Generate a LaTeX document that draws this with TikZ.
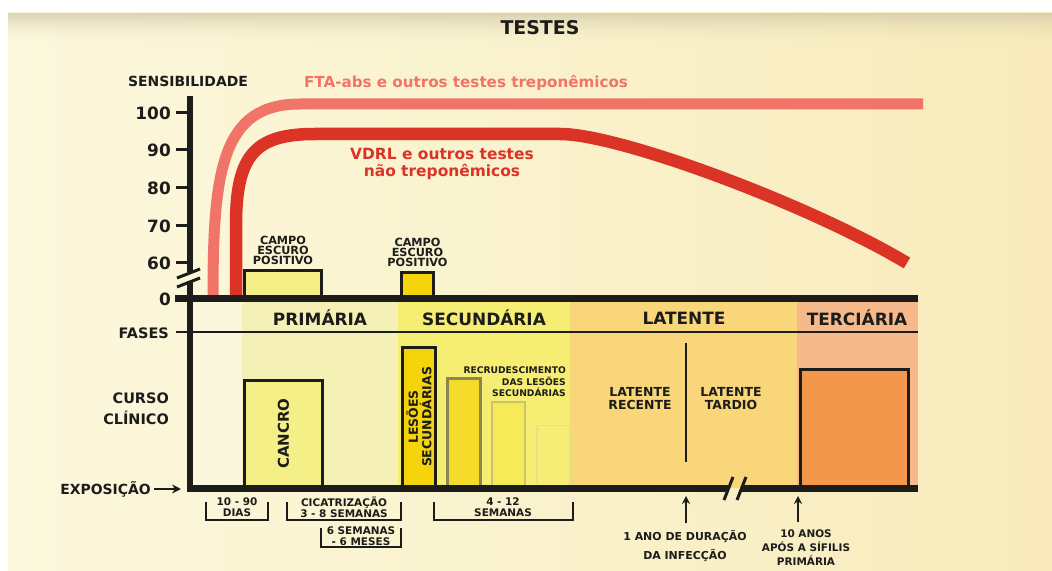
\documentclass[tikz,border=0pt]{standalone}
\usepackage{fontspec}
\setmainfont{DejaVu Sans}
\usetikzlibrary{positioning,arrows.meta}
\definecolor{ink}{HTML}{1C1C1A}
\definecolor{bgleft}{HTML}{FCF8DD}
\definecolor{bgmid}{HTML}{FAF2CD}
\definecolor{bgright}{HTML}{F8EABA}
\definecolor{topband}{HTML}{CFC6A6}
\definecolor{ftared}{HTML}{F07468}
\definecolor{vdrlred}{HTML}{DC3327}
\definecolor{preclr}{HTML}{FBF6DE}
\definecolor{primclr}{HTML}{F4F0B6}
\definecolor{secclr}{HTML}{F6EE72}
\definecolor{latclr}{HTML}{F8D679}
\definecolor{terclr}{HTML}{F5B98B}
\definecolor{paleyel}{HTML}{F4EF86}
\definecolor{goldyel}{HTML}{F5D40C}
\definecolor{bar1clr}{HTML}{F5DB2A}
\definecolor{bar2clr}{HTML}{F6EA58}
\definecolor{bar3clr}{HTML}{F6EE74}
\definecolor{bar1edge}{HTML}{8C8650}
\definecolor{bar2edge}{HTML}{C9C070}
\definecolor{bar3edge}{HTML}{E6E08E}
\definecolor{orangebox}{HTML}{F3984A}
\newcommand\fsz[2]{\fontsize{#1}{#2}\selectfont\bfseries}

\begin{document}
\begin{tikzpicture}
  [x=1bp, y=-1bp,
   txt/.style={text=ink, inner sep=0pt, align=center},
   box/.style={draw=ink, line width=3bp, inner sep=0pt, anchor=south west},
   axisline/.style={draw=ink, line width=7bp},
   tickline/.style={draw=ink, line width=3bp},
   bracket/.style={draw=ink, line width=1.5bp},
   uparrow/.style={draw=ink, line width=2bp, -{Stealth[length=8bp,width=8bp]}}]
  \useasboundingbox (0,0) rectangle (1052,571);
  \fill[white] (0,0) rectangle (1052,571);
  \shade[left color=bgleft, right color=bgright, middle color=bgmid] (8,13) rectangle (1052,571);
  \foreach \i [evaluate=\i as \op using (1-\i/16)^2*0.7] in {0,...,15}
    \fill[topband, opacity=\op] (8,13+2*\i) rectangle (1052,15+2*\i);

  \fill[preclr]  (190,298) rectangle (242,488);
  \fill[primclr] (242,298) rectangle (398,488);
  \fill[secclr]  (398,298) rectangle (570,488);
  \fill[latclr]  (570,298) rectangle (797,488);
  \fill[terclr]  (797,298) rectangle (918,488);

  \draw[ftared, line width=11bp] (213,296) .. controls (213,170) and (222,104) .. (300,104) -- (923,104);
  \draw[vdrlred, line width=12.5bp] (236,296) -- (236,225) .. controls (236,155) and (255,134) .. (315,134)
    -- (560,134) .. controls (620,134) and (810,205) .. (907,263);

  \node[txt, font=\fsz{19}{19}] (title) at (540,28) {TESTES};
  \node[txt, font=\fsz{14}{14}] (sens) at (188,81) {SENSIBILIDADE};
  \node[txt, text=ftared, font=\fsz{15.2}{15}] (ftalabel) at (466,83) {FTA-abs e outros testes treponêmicos};
  \node[txt, text=vdrlred, font=\fsz{15.5}{17}] (vdrllabel) at (442,164) {VDRL e outros testes\\não treponêmicos};

  \node[box, fill=paleyel, minimum width=77bp, minimum height=26bp] (campo1) at (243,298) {};
  \node[txt, font=\fsz{11.3}{10.3}, above=4bp of campo1] (campo1lbl) {CAMPO\\ESCURO\\POSITIVO};
  \node[box, fill=goldyel, minimum width=32bp, minimum height=24bp] (campo2) at (400,298) {};
  \node[txt, font=\fsz{11.3}{10.3}, above=4bp of campo2] (campo2lbl) {CAMPO\\ESCURO\\POSITIVO};

  \node[box, fill=paleyel, minimum width=78bp, minimum height=106bp] (cancro) at (243,488) {};
  \node[txt, font=\fsz{15}{15}, rotate=90] (cancrolbl) at (cancro.center) {CANCRO};
  \node[box, fill=goldyel, minimum width=33bp, minimum height=139bp] (lesoes) at (401,488) {};
  \node[txt, font=\fsz{12.5}{13.5}, rotate=90] (lesoeslbl) at (lesoes.center) {LESÕES\\SECUNDÁRIAS};
  \node[box, draw=bar1edge, line width=2.5bp, fill=bar1clr, minimum width=33bp, minimum height=108bp] (bar1) at (446,488) {};
  \node[box, draw=bar2edge, line width=2bp, fill=bar2clr, minimum width=33bp, minimum height=85bp] (bar2) at (491,488) {};
  \node[box, draw=bar3edge, line width=1.5bp, fill=bar3clr, minimum width=33bp, minimum height=62bp] (bar3) at (536,488) {};
  \node[txt, font=\fsz{9.2}{11.5}, align=right, anchor=east] (recrud) at (566,382) {RECRUDESCIMENTO\\DAS LESÕES\\SECUNDÁRIAS};

  \draw[ink, line width=2bp] (686,343) -- (686,462);
  \node[txt, font=\fsz{12.5}{13}] (latrec) at (640,399) {LATENTE\\RECENTE};
  \node[txt, font=\fsz{12.5}{13}] (lattar) at (731,399) {LATENTE\\TARDIO};
  \node[box, fill=orangebox, minimum width=108bp, minimum height=117bp] (terbox) at (799,488) {};

  \draw[ink, line width=6bp] (190,96) -- (190,272);
  \draw[ink, line width=6bp] (190,281) -- (190,488);
  \draw[tickline] (177,278) -- (200,269);
  \draw[tickline] (177,287) -- (200,278);
  \foreach \val/\ypos in {100/113, 90/150, 80/188, 70/226, 60/263} {
    \draw[tickline] (176,\ypos) -- (190,\ypos);
    \node[txt, font=\fsz{17}{17}, anchor=east] (tick\val) at (171,\ypos) {\val};
  }
  \draw[axisline] (175,298) -- (918,298);
  \node[txt, font=\fsz{17}{17}, anchor=east] (tick0) at (171,299) {0};
  \draw[ink, line width=2bp] (176,332) -- (918,332);
  \node[txt, font=\fsz{14.5}{14.5}, anchor=east] (fases) at (169,333) {FASES};
  \node[txt, font=\fsz{14.5}{21}, anchor=east, align=right] (curso) at (169,409) {CURSO\\CLÍNICO};

  \node[txt, font=\fsz{17}{17}] (prim) at (320,318) {PRIMÁRIA};
  \node[txt, font=\fsz{17}{17}] (sec) at (484,318) {SECUNDÁRIA};
  \node[txt, font=\fsz{17}{17}] (lat) at (684,318) {LATENTE};
  \node[txt, font=\fsz{17}{17}] (ter) at (857,318) {TERCIÁRIA};

  \draw[axisline] (187,488) -- (729,488);
  \draw[axisline] (742,488) -- (918,488);
  \draw[tickline] (724,500) -- (733,477);
  \draw[tickline] (737,500) -- (746,477);
  \node[txt, font=\fsz{14}{14}, anchor=east] (expo) at (151,489) {EXPOSIÇÃO};
  \coordinate (expoend) at (181,489);
  \draw[ink, line width=2.5bp, -{Stealth[length=9bp,width=9bp]}, shorten <=3bp] (expo) -- (expoend);

  \node[txt, font=\fsz{10.5}{11}] (dias) at (237,507) {10 - 90\\DIAS};
  \draw[bracket] (206,502) |- (268,520) -- (268,502);
  \node[txt, font=\fsz{10.5}{11}] (cicat) at (344,507) {CICATRIZAÇÃO\\3 - 8 SEMANAS};
  \draw[bracket] (287,502) |- (401,520) -- (401,502);
  \node[txt, font=\fsz{10.5}{11}] (seis) at (361,536) {6 SEMANAS\\- 6 MESES};
  \draw[bracket] (321,528) |- (401,547) -- (401,528);
  \node[txt, font=\fsz{10.5}{11}] (quatro) at (503,507) {4 - 12\\SEMANAS};
  \draw[bracket] (434,502) |- (573,520) -- (573,502);

  \node[txt, font=\fsz{11}{19}] (umano) at (685,546) {1 ANO DE DURAÇÃO\\DA INFECÇÃO};
  \coordinate (umanotip) at (686,496);
  \draw[uparrow, shorten <=7bp] (umanotip |- umano.north) -- (umanotip);
  \node[txt, font=\fsz{10.5}{14}] (dezanos) at (806,548) {10 ANOS\\APÓS A SÍFILIS\\PRIMÁRIA};
  \coordinate (dezanostip) at (798,496);
  \draw[uparrow, shorten <=8bp] (dezanostip |- dezanos.north) -- (dezanostip);
\end{tikzpicture}
\end{document}
